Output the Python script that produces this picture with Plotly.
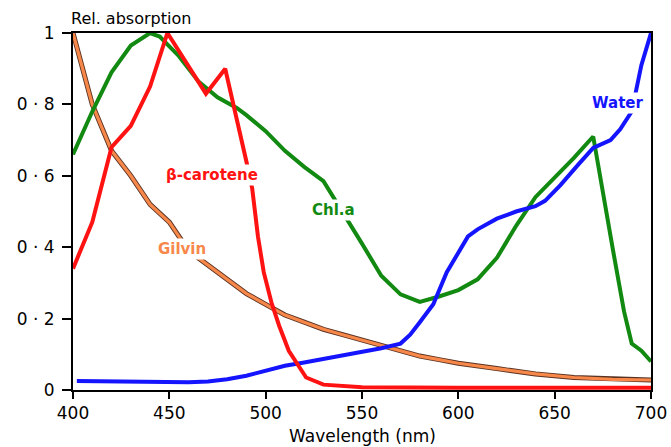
import plotly.graph_objects as go

# ---------------- data ----------------
gilvin_wl = [400, 410, 420, 430, 440, 450, 460, 470, 480, 490, 500, 510, 520, 530,
             540, 550, 560, 570, 580, 590, 600, 620, 640, 660, 680, 700]
gilvin_abs = [1.0, 0.80, 0.67, 0.60, 0.52, 0.47, 0.39, 0.35, 0.31, 0.27, 0.24, 0.21,
              0.19, 0.17, 0.155, 0.14, 0.125, 0.11, 0.095, 0.085, 0.075, 0.06, 0.045,
              0.035, 0.03, 0.028]

chla_wl = [400, 410, 420, 430, 440, 445, 455, 465, 475, 485, 490, 500, 510, 520, 530,
           540, 550, 560, 570, 580, 590, 600, 610, 620, 630, 640, 650, 660, 670, 675,
           680, 686, 690, 695, 700]
chla_abs = [0.66, 0.78, 0.89, 0.965, 1.0, 0.99, 0.935, 0.865, 0.82, 0.79, 0.77, 0.725,
            0.67, 0.625, 0.585, 0.50, 0.41, 0.32, 0.268, 0.247, 0.262, 0.28, 0.31, 0.37,
            0.46, 0.54, 0.595, 0.65, 0.71, 0.55, 0.40, 0.22, 0.13, 0.11, 0.08]

water_wl = [402, 420, 440, 460, 470, 480, 490, 500, 510, 520, 530, 540, 550, 560, 570,
            575, 580, 587, 594, 600, 605, 610, 620, 630, 640, 645, 653, 662, 670, 679,
            684, 690, 695, 700]
water_abs = [0.025, 0.024, 0.022, 0.022, 0.024, 0.03, 0.04, 0.055, 0.068, 0.077, 0.087,
             0.097, 0.107, 0.117, 0.13, 0.155, 0.19, 0.24, 0.33, 0.385, 0.43, 0.45,
             0.48, 0.50, 0.515, 0.53, 0.574, 0.63, 0.678, 0.70, 0.73, 0.78, 0.91, 1.0]

carot_wl = [400, 410, 420, 430, 440, 449, 469, 479, 490, 493, 496, 499, 503, 507, 512,
            516, 521, 530, 550, 600, 650, 700]
carot_abs = [0.34, 0.47, 0.68, 0.74, 0.85, 1.0, 0.83, 0.90, 0.64, 0.565, 0.43, 0.33,
             0.245, 0.18, 0.11, 0.075, 0.035, 0.015, 0.008, 0.006, 0.006, 0.006]

y_tickvals = [0, 0.2, 0.4, 0.6, 0.8, 1]
y_ticktext = ["0", "0 · 2", "0 · 4", "0 · 6", "0 · 8", "1"]
x_tickvals = [400, 450, 500, 550, 600, 650, 700]

FONT = "DejaVu Sans"

fig = go.Figure()

# Gilvin: dark outline + orange core
fig.add_trace(go.Scatter(x=gilvin_wl, y=gilvin_abs, mode="lines",
                         line=dict(color="#5a3222", width=5), cliponaxis=False,
                         showlegend=False, hoverinfo="skip"))
fig.add_trace(go.Scatter(x=gilvin_wl, y=gilvin_abs, mode="lines", name="Gilvin",
                         line=dict(color="#f7884a", width=3.2), cliponaxis=False,
                         showlegend=False))
fig.add_trace(go.Scatter(x=chla_wl, y=chla_abs, mode="lines", name="Chl.a",
                         line=dict(color="#128a12", width=4), cliponaxis=False,
                         showlegend=False))
fig.add_trace(go.Scatter(x=water_wl, y=water_abs, mode="lines", name="Water",
                         line=dict(color="#1414ff", width=4), cliponaxis=False,
                         showlegend=False))
fig.add_trace(go.Scatter(x=carot_wl, y=carot_abs, mode="lines", name="β-carotene",
                         line=dict(color="#ff1212", width=4), cliponaxis=False,
                         showlegend=False))

def label(text, x, y, color):
    fig.add_annotation(x=x, y=y, xref="x", yref="y", text=f"<b>{text}</b>",
                       showarrow=False, bgcolor="white", borderpad=1,
                       font=dict(family=FONT, size=15, color=color))

label("β-carotene", 472, 0.602, "#ff1212")
label("Chl.a", 535, 0.504, "#128a12")
label("Gilvin", 456.5, 0.395, "#f7884a")
label("Water", 682.5, 0.804, "#1414ff")

fig.add_annotation(x=0, y=1, xref="paper", yref="paper", text="Rel. absorption",
                   showarrow=False, xanchor="left", yanchor="middle",
                   xshift=-4, yshift=15,
                   font=dict(family=FONT, size=16, color="black"))
fig.add_annotation(x=0.5, y=0, xref="paper", yref="paper", text="Wavelength (nm)",
                   showarrow=False, xanchor="center", yanchor="middle",
                   yshift=-46,
                   font=dict(family=FONT, size=17, color="black"))

fig.update_xaxes(range=[400, 700], tickvals=x_tickvals, ticks="outside", ticklen=7,
                 tickwidth=1.5, tickcolor="black", showline=True, linecolor="black",
                 linewidth=2, mirror=True, showgrid=False, zeroline=False,
                 automargin=False,
                 tickfont=dict(family=FONT, size=17, color="black"))
fig.update_yaxes(range=[0, 1], tickvals=y_tickvals, ticktext=y_ticktext,
                 ticks="outside", ticklen=9, tickwidth=1.5, tickcolor="black",
                 showline=True, linecolor="black", linewidth=2, mirror=True,
                 showgrid=False, zeroline=False, automargin=False,
                 ticklabelstandoff=4,
                 tickfont=dict(family=FONT, size=17, color="black"))

fig.update_layout(width=671, height=447, margin=dict(l=73, r=20, t=33, b=57),
                  paper_bgcolor="white", plot_bgcolor="white",
                  font=dict(family=FONT, color="black"))

fig.write_html("out.html")
